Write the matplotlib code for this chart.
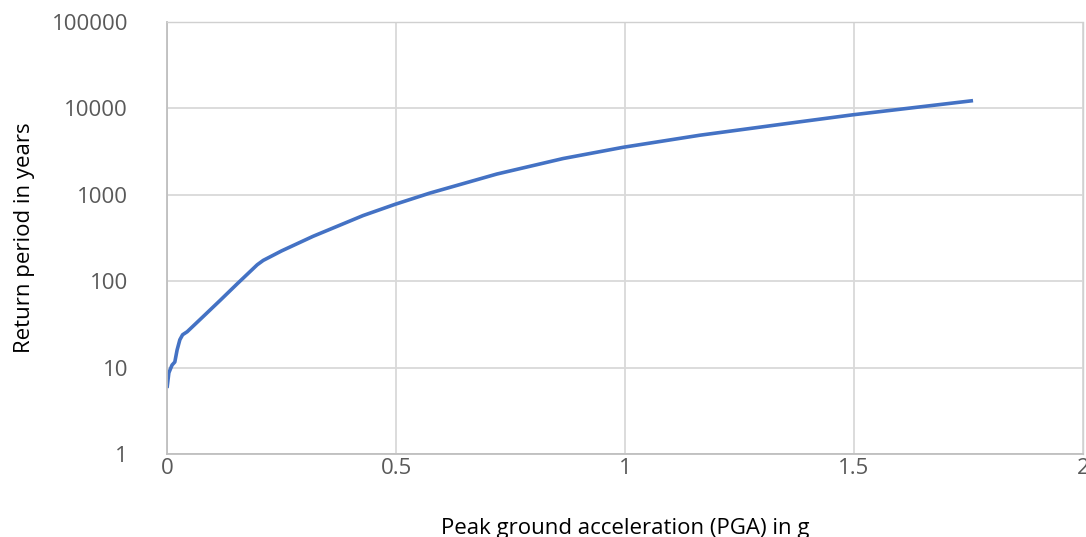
import numpy as np
import matplotlib.pyplot as plt

# hazard curve
pga = [0.0, 0.004, 0.011, 0.017, 0.022, 0.028, 0.034, 0.044, 0.079, 0.116, 0.153,
       0.197, 0.21, 0.25, 0.319, 0.428, 0.498, 0.574, 0.72, 0.865, 0.996, 1.164,
       1.382, 1.496, 1.76]
rp = [5.8, 8.7, 10.7, 11.6, 16, 21, 24, 26, 39, 60, 93,
      155, 174, 224, 331, 575, 776, 1047, 1738, 2630, 3548, 4898,
      7000, 8414, 12300]

xticks = [0, 0.5, 1, 1.5, 2]
xtick_labels = ["0", "0.5", "1", "1.5", "2"]
yticks = [1, 10, 100, 1000, 10000, 100000]
ytick_labels = ["1", "10", "100", "1000", "10000", "100000"]

plt.rcParams['font.family'] = ['Open Sans', 'DejaVu Sans']

fig = plt.figure(figsize=(10.86, 5.37), dpi=100)
ax = fig.add_axes([0.1538, 0.1546, 0.8434, 0.8044])

ax.plot(pga, rp, color="#4472C4", linewidth=2.6, solid_capstyle="butt",
        solid_joinstyle="round")

ax.set_yscale("log")
ax.set_xlim(0, 2)
ax.set_ylim(1, 100000)
ax.set_xticks(xticks)
ax.set_xticklabels(xtick_labels)
ax.set_yticks(yticks)
ax.set_yticklabels(ytick_labels)
ax.yaxis.set_minor_locator(plt.NullLocator())

ax.grid(True, color="#d9d9d9", linewidth=1.3)
ax.set_axisbelow(True)
for side in ["left", "bottom"]:
    ax.spines[side].set_color("#bfbfbf")
    ax.spines[side].set_linewidth(1.3)
for side in ["top", "right"]:
    ax.spines[side].set_color("#d0d0d0")
    ax.spines[side].set_linestyle((0, (2, 1)))
    ax.spines[side].set_linewidth(1.0)

ax.tick_params(axis="both", length=0, labelsize=16, labelcolor="#595959")
ax.tick_params(axis="y", pad=28)
ax.tick_params(axis="x", pad=3)

ax.set_xlabel("Peak ground acceleration (PGA) in g", fontsize=16, labelpad=28)
ax.set_ylabel("Return period in years", fontsize=16, labelpad=12)

fig.savefig("out.png", dpi=100)
